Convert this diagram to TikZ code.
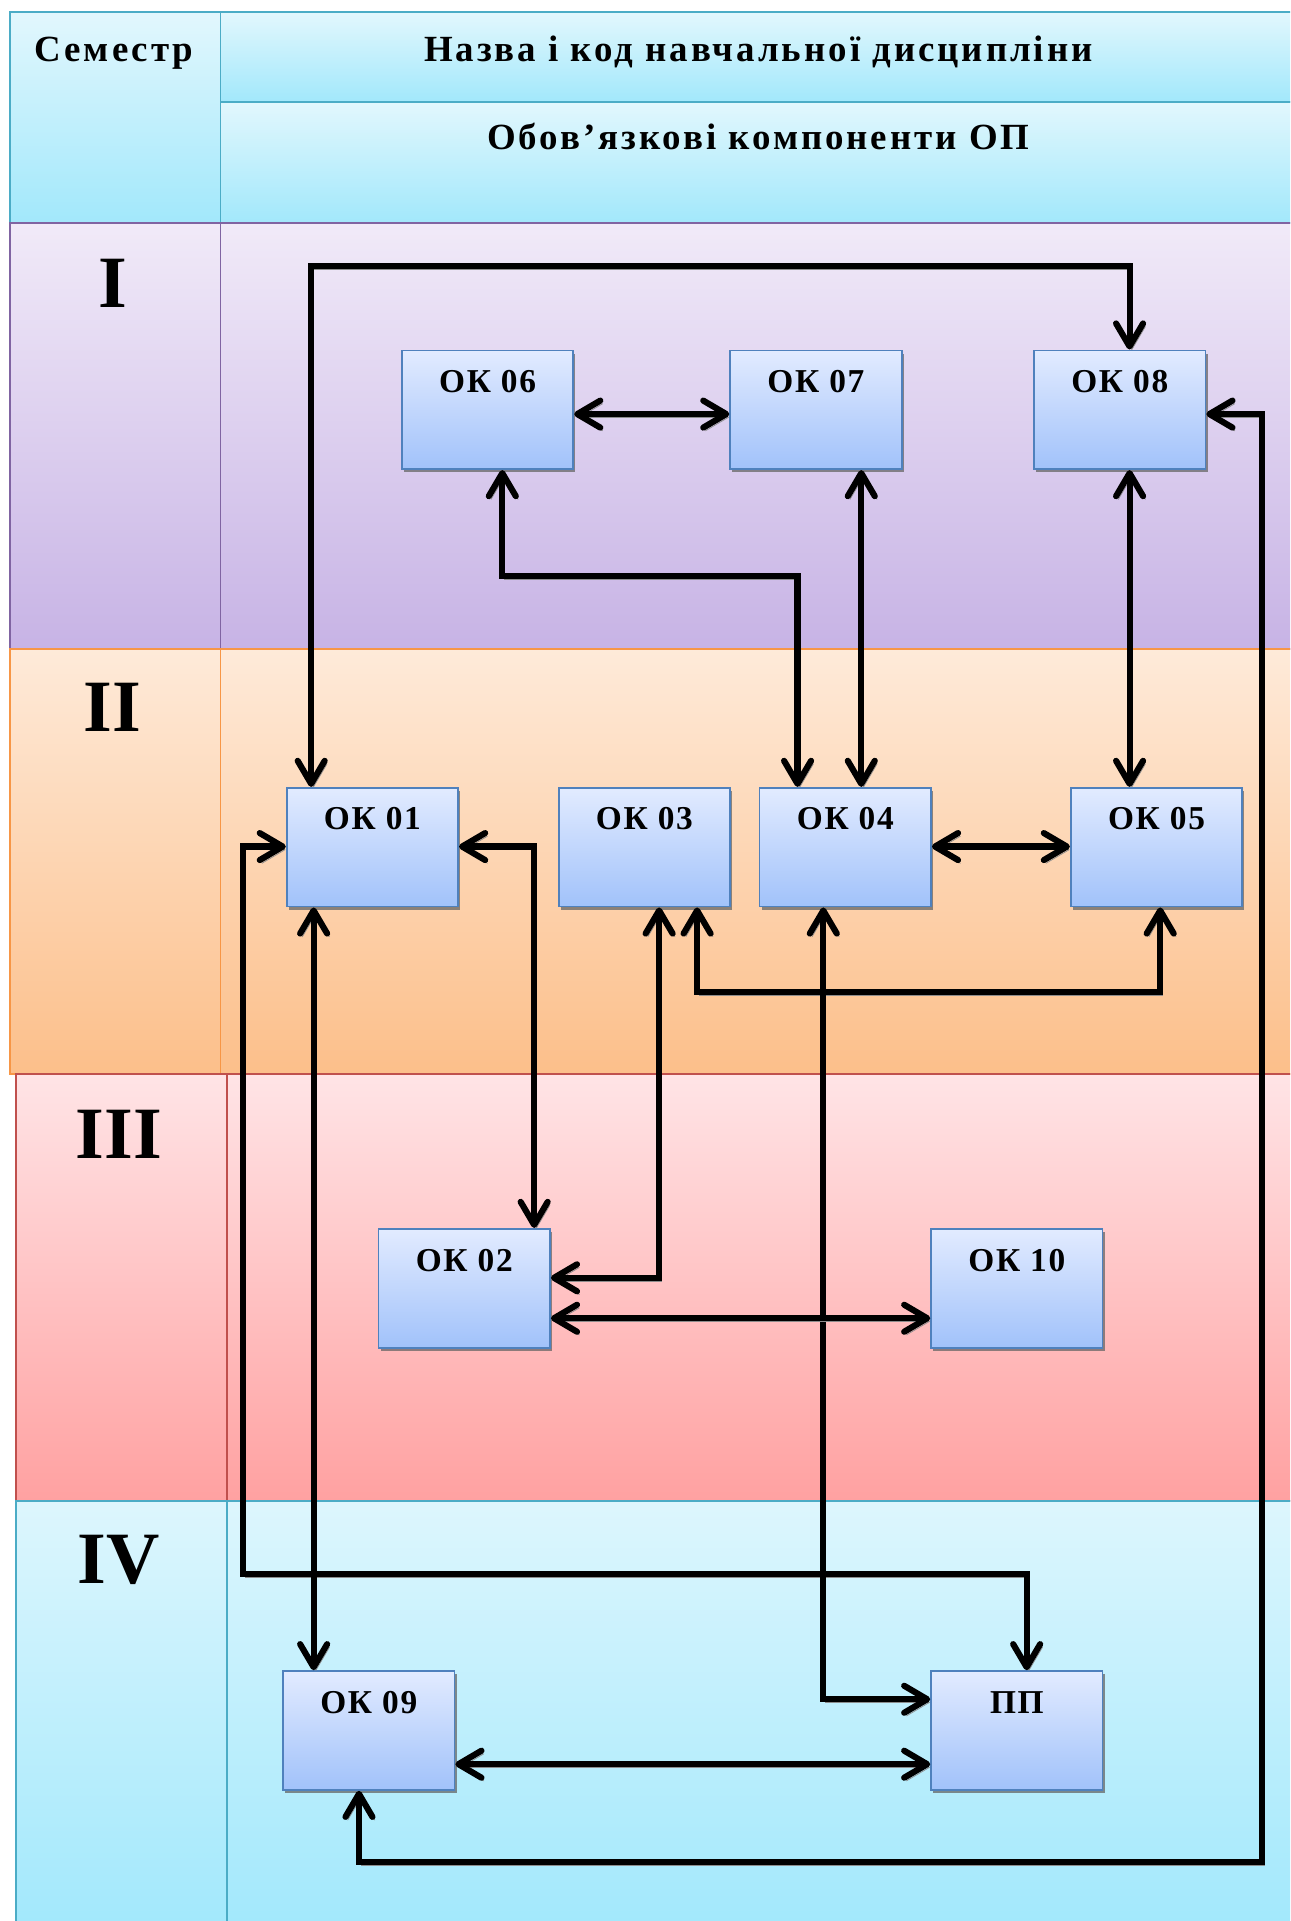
\documentclass[tikz,border=0pt]{standalone}
\usepackage{fontspec}
\setmainfont{Liberation Serif}
\newfontfamily\spacedfont[LetterSpace=8]{Liberation Serif}
\newfontfamily\boxfont[LetterSpace=5]{Liberation Serif}
\usetikzlibrary{arrows.meta,shadows}
\definecolor{hdrT}{HTML}{E2F7FD}
\definecolor{hdrD}{HTML}{A2E8FB}
\definecolor{hdrB}{HTML}{4BACC6}
\definecolor{rIT}{HTML}{F1EAF8}
\definecolor{rID}{HTML}{C7B3E5}
\definecolor{rIB}{HTML}{8064A2}
\definecolor{rIIT}{HTML}{FEEAD9}
\definecolor{rIID}{HTML}{FCBF8A}
\definecolor{rIIB}{HTML}{F79646}
\definecolor{rIIIT}{HTML}{FFE4E6}
\definecolor{rIIID}{HTML}{FFA1A1}
\definecolor{rIIIB}{HTML}{C0504D}
\definecolor{rIVT}{HTML}{DDF6FD}
\definecolor{rIVD}{HTML}{A1E8FC}
\definecolor{boxT}{HTML}{E2EBFF}
\definecolor{boxD}{HTML}{A1C2FA}
\definecolor{boxB}{HTML}{4F81BD}
\begin{document}
\begin{tikzpicture}[x=0.0245cm,y=-0.0245cm,
  cell/.style n args={3}{draw=#3, line width=1.1pt, top color=#1, bottom color=#2},
  hdrtext/.style={anchor=base, inner sep=0pt, font=\spacedfont\bfseries\fontsize{21}{24}\selectfont},
  semtext/.style={inner sep=0pt, font=\bfseries\fontsize{42}{46}\selectfont},
  okbox/.style={draw=boxB, line width=1pt, top color=boxT, bottom color=boxD,
    minimum width=3.43cm, minimum height=2.3765cm, inner xsep=0pt, inner ysep=0pt,
    text height=23.9pt, text depth=43.5pt,
    font=\boxfont\bfseries\fontsize{19}{21}\selectfont,
    drop shadow={shadow xshift=1.2pt, shadow yshift=-1.8pt, fill=black!60, opacity=0.75}},
  link/.style={line width=3.5pt, >={Straight Barb[length=4.6mm,width=5.4mm,round]}, <->,
    preaction={draw=black!45, transform canvas={xshift=1.3pt,yshift=-1.8pt}}}
]
\useasboundingbox (0,0) rectangle (1053,1568);
\clip (0,0) rectangle (1053,1568);
% header
\path[cell={hdrT}{hdrD}{hdrB}] (8,10) rectangle (180,182);
\path[cell={hdrT}{hdrD}{hdrB}] (180,10) rectangle (1062,83);
\path[cell={hdrT}{hdrD}{hdrB}] (180,83) rectangle (1062,182);
% rows
\path[cell={rIT}{rID}{rIB}] (8,182) rectangle (180,530);
\path[cell={rIT}{rID}{rIB}] (180,182) rectangle (1062,530);
\path[cell={rIIT}{rIID}{rIIB}] (8,530) rectangle (180,877);
\path[cell={rIIT}{rIID}{rIIB}] (180,530) rectangle (1062,877);
\path[cell={rIIIT}{rIIID}{rIIIB}] (13,877) rectangle (185,1225);
\path[cell={rIIIT}{rIIID}{rIIIB}] (185,877) rectangle (1062,1225);
\path[cell={rIVT}{rIVD}{hdrB}] (13,1225) rectangle (185,1580);
\path[cell={rIVT}{rIVD}{hdrB}] (185,1225) rectangle (1062,1580);
% header texts
\node[hdrtext] (tsem) at (93,50) {Семестр};
\node[hdrtext] (tname) at (619,50) {Назва і код навчальної дисципліни};
\node[hdrtext] (tcomp) at (619,122) {Обов’язкові компоненти ОП};
% semester numerals
\node[semtext] (s1) at (92,231) {I};
\node[semtext] (s2) at (92,577) {II};
\node[semtext] (s3) at (97,926) {III};
\node[semtext] (s4) at (97,1273) {IV};
% boxes
\node[okbox] (ok06) at (398,334.5) {ОК 06};
\node[okbox] (ok07) at (666,334.5) {ОК 07};
\node[okbox] (ok08) at (914,334.5) {ОК 08};
\node[okbox] (ok01) at (304,691.5) {ОК 01};
\node[okbox] (ok03) at (526,691.5) {ОК 03};
\node[okbox] (ok04) at (690,691.5) {ОК 04};
\node[okbox] (ok05) at (944,691.5) {ОК 05};
\node[okbox] (ok02) at (379,1051.5) {ОК 02};
\node[okbox] (ok10) at (830,1051.5) {ОК 10};
\node[okbox] (ok09) at (301,1412.5) {ОК 09};
\node[okbox] (pp) at (830,1412.5) {ПП};
% connectors
\draw[link] (ok06.east |- 0,338) -- (ok07.west |- 0,338);
\draw[link] (410,0 |- ok06.south) -- (410,470) -- (651,470) -- (651,0 |- ok04.north);
\draw[link] (703,0 |- ok07.south) -- (703,0 |- ok04.north);
\draw[link] (922,0 |- ok08.south) -- (922,0 |- ok05.north);
\draw[link] (254,0 |- ok01.north) -- (254,217) -- (922,217) -- (922,0 |- ok08.north);
\draw[link] (ok08.east |- 0,338) -- (1030,338) -- (1030,1520) -- (293,1520) -- (293,0 |- ok09.south);
\draw[link] (ok01.west |- 0,691) -- (198,691) -- (198,1285) -- (838,1285) -- (838,0 |- pp.north);
\draw[link] (ok01.east |- 0,691) -- (436,691) -- (436,0 |- ok02.north);
\draw[link] (256,0 |- ok01.south) -- (256,0 |- ok09.north);
\draw[link] (538,0 |- ok03.south) -- (538,1043) -- (ok02.east |- 0,1043);
\draw[link] (569,0 |- ok03.south) -- (569,810) -- (947,810) -- (947,0 |- ok05.south);
\draw[link] (ok04.east |- 0,691) -- (ok05.west |- 0,691);
\draw[link] (672,0 |- ok04.south) -- (672,1387) -- (pp.west |- 0,1387);
\draw[link] (ok02.east |- 0,1076) -- (ok10.west |- 0,1076);
\draw[link] (ok09.east |- 0,1440) -- (pp.west |- 0,1440);
\end{tikzpicture}
\end{document}
